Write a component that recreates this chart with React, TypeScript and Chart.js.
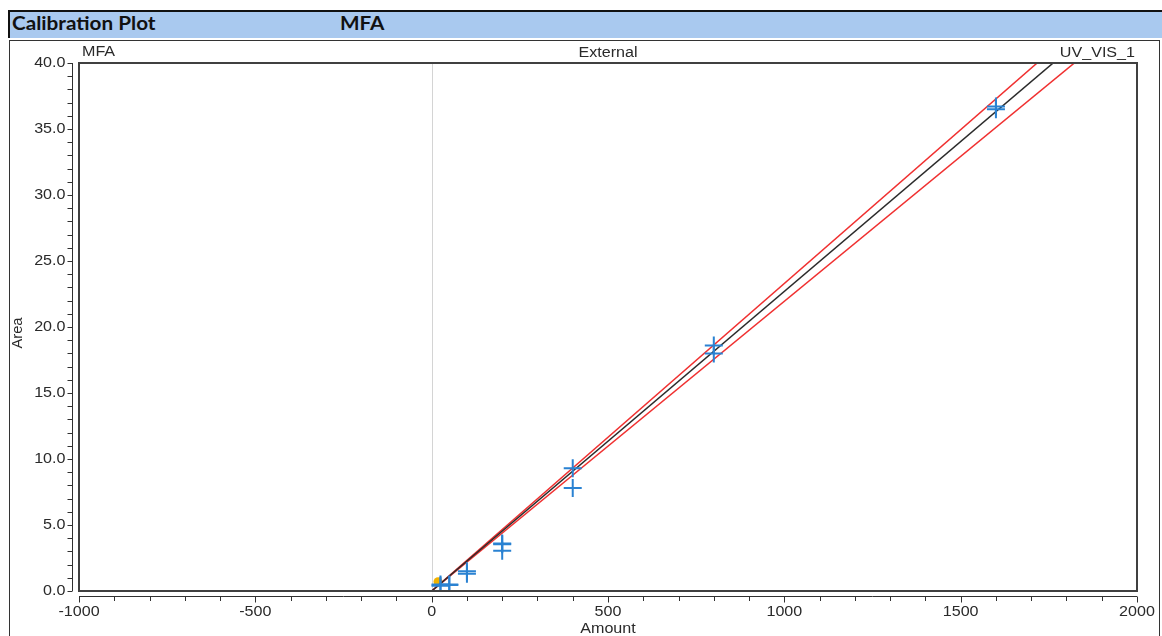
import React, { useEffect, useRef } from "react";
import { Chart, registerables } from "chart.js";

Chart.register(...registerables);

// ---- data ----
const calAmounts = [25, 25, 50, 50, 100, 100, 200, 200, 200, 400, 400, 800, 800, 1600, 1600];
const calAreas = [0.5, 0.4, 0.45, 0.5, 1.5, 1.3, 3.6, 3.55, 3.05, 9.3, 7.8, 18.6, 18.0, 36.7, 36.5];
const highlightAmounts = [18];
const highlightAreas = [0.7];
const fitAmounts = [0, 2000];
const fitAreas = [0, 45.4];
const upperAreas = [0, 46.6];
const lowerAreas = [0, 43.9];
const xMajorTicks = [-1000, -500, 0, 500, 1000, 1500, 2000];
const xMinorStep = 100;
const yMajorTicks = [0, 5, 10, 15, 20, 25, 30, 35, 40];
const yMinorStep = 1;
const xTitle = "Amount";
const yTitle = "Area";
const topLeftLabel = "MFA";
const topCenterLabel = "External";
const topRightLabel = "UV_VIS_1";
const headerTitle = "Calibration Plot";
const headerName = "MFA";

const TEXT_COLOR = "#2a2a2a";
const STRETCH = 1.15;

function stretchText(ctx: CanvasRenderingContext2D, text: string, x: number, y: number, align: CanvasTextAlign) {
  ctx.save();
  ctx.translate(x, y);
  ctx.scale(STRETCH, 1);
  ctx.textAlign = align;
  ctx.textBaseline = "middle";
  ctx.fillText(text, 0, 0);
  ctx.restore();
}

const framePlugin = {
  id: "calibFrame",
  beforeDatasetsDraw(chart: any) {
    const { ctx, chartArea } = chart;
    const xs = chart.scales.x;
    const x0 = Math.round(xs.getPixelForValue(0)) + 0.5;
    ctx.save();
    ctx.strokeStyle = "#d4d4d4";
    ctx.lineWidth = 1;
    ctx.beginPath();
    ctx.moveTo(x0, chartArea.top);
    ctx.lineTo(x0, chartArea.bottom);
    ctx.stroke();
    ctx.restore();
  },
  afterDraw(chart: any) {
    const { ctx, chartArea } = chart;
    const xs = chart.scales.x;
    const ys = chart.scales.y;
    const { left, right, top, bottom } = chartArea;
    ctx.save();
    // plot frame
    ctx.strokeStyle = "#404040";
    ctx.lineWidth = 2;
    ctx.strokeRect(left, top, right - left, bottom - top);

    ctx.lineWidth = 1;
    ctx.strokeStyle = "#303030";
    // y axis line (offset)
    const yAxisX = left - 6.5;
    ctx.beginPath();
    ctx.moveTo(yAxisX, top);
    ctx.lineTo(yAxisX, bottom);
    ctx.stroke();
    // y ticks
    const yMin = yMajorTicks[0];
    const yMax = yMajorTicks[yMajorTicks.length - 1];
    for (let v = yMin; v <= yMax + 1e-9; v += yMinorStep) {
      const py = Math.round(ys.getPixelForValue(v)) + 0.5;
      ctx.beginPath();
      ctx.moveTo(yAxisX - 5, py);
      ctx.lineTo(yAxisX, py);
      ctx.stroke();
    }
    // x axis line (offset)
    const xAxisY = bottom + 5.5;
    ctx.beginPath();
    ctx.moveTo(left, xAxisY);
    ctx.lineTo(right, xAxisY);
    ctx.stroke();
    const xMin = xMajorTicks[0];
    const xMax = xMajorTicks[xMajorTicks.length - 1];
    for (let v = xMin; v <= xMax + 1e-9; v += xMinorStep) {
      const px = Math.round(xs.getPixelForValue(v)) + 0.5;
      const major = xMajorTicks.includes(v);
      ctx.beginPath();
      ctx.moveTo(px, xAxisY);
      ctx.lineTo(px, xAxisY + (major ? 6 : 4.5));
      ctx.stroke();
    }

    // labels
    ctx.fillStyle = TEXT_COLOR;
    ctx.font = "14px 'Liberation Sans', Arial, sans-serif";
    yMajorTicks.forEach((v) => {
      const py = ys.getPixelForValue(v);
      stretchText(ctx, v.toFixed(1), yAxisX - 7, py, "right");
    });
    xMajorTicks.forEach((v) => {
      const px = xs.getPixelForValue(v);
      stretchText(ctx, String(v), px, bottom + 21, "center");
    });
    stretchText(ctx, xTitle, (left + right) / 2, bottom + 38, "center");
    stretchText(ctx, topLeftLabel, left + 3, top - 11, "left");
    stretchText(ctx, topCenterLabel, (left + right) / 2, top - 10, "center");
    stretchText(ctx, topRightLabel, right - 2, top - 10, "right");

    ctx.save();
    ctx.translate(18, (top + bottom) / 2 + 6);
    ctx.rotate(-Math.PI / 2);
    ctx.scale(1.05, 1.1);
    ctx.textAlign = "center";
    ctx.textBaseline = "middle";
    ctx.fillText(yTitle, 0, 0);
    ctx.restore();

    ctx.restore();
  },
};

export default function App() {
  const canvasRef = useRef<HTMLCanvasElement | null>(null);

  useEffect(() => {
    if (!canvasRef.current) return;
    const chart = new Chart(canvasRef.current, {
      type: "scatter",
      data: {
        datasets: [
          {
            type: "scatter",
            label: "Calibration points",
            data: calAmounts.map((a, i) => ({ x: a, y: calAreas[i] })),
            pointStyle: "cross",
            pointRadius: 9,
            pointBorderWidth: 2,
            borderColor: "#2a82d2",
            backgroundColor: "#2a82d2",
          },
          {
            type: "line",
            label: "Fit",
            data: fitAmounts.map((a, i) => ({ x: a, y: fitAreas[i] })),
            borderColor: "#2b2b2b",
            borderWidth: 1.5,
            pointRadius: 0,
            fill: false,
            showLine: true,
            clip: 0,
          } as any,
          {
            type: "line",
            label: "Upper",
            data: fitAmounts.map((a, i) => ({ x: a, y: upperAreas[i] })),
            borderColor: "#f03030",
            borderWidth: 1.5,
            pointRadius: 0,
            fill: false,
            showLine: true,
            clip: 0,
          } as any,
          {
            type: "line",
            label: "Lower",
            data: fitAmounts.map((a, i) => ({ x: a, y: lowerAreas[i] })),
            borderColor: "#f03030",
            borderWidth: 1.5,
            pointRadius: 0,
            fill: false,
            showLine: true,
            clip: 0,
          } as any,
          {
            type: "scatter",
            label: "Highlight",
            data: highlightAmounts.map((a, i) => ({ x: a, y: highlightAreas[i] })),
            pointStyle: "circle",
            pointRadius: 4.5,
            borderWidth: 0,
            borderColor: "#f2b200",
            backgroundColor: "#f2b200",
          },
        ],
      },
      options: {
        animation: false,
        responsive: false,
        events: [],
        layout: { padding: { left: 79, top: 63, right: 25, bottom: 45 } },
        plugins: { legend: { display: false }, tooltip: { enabled: false } },
        scales: {
          x: { type: "linear", min: -1000, max: 2000, display: false },
          y: { type: "linear", min: 0, max: 40, display: false },
        },
      },
      plugins: [framePlugin],
    });
    return () => chart.destroy();
  }, []);

  const headerText: React.CSSProperties = {
    position: "absolute",
    top: 0,
    font: "bold 18px Lato, 'Open Sans', sans-serif",
    color: "#111",
    transform: `scaleX(${STRETCH})`,
    transformOrigin: "left center",
    whiteSpace: "nowrap",
  };

  return (
    <div style={{ position: "absolute", left: 0, top: 0, width: 1162, height: 636, background: "#fff", overflow: "hidden" }}>
      <div
        style={{
          position: "absolute",
          left: 8,
          top: 10,
          width: 1154,
          height: 28,
          boxSizing: "border-box",
          borderTop: "2px solid #111",
          borderLeft: "2px solid #111",
          background: "#a9c9ef",
        }}
      >
        <span style={{ ...headerText, left: 2 }}>{headerTitle}</span>
        <span style={{ ...headerText, left: 330 }}>{headerName}</span>
      </div>
      <div
        style={{
          position: "absolute",
          left: 9,
          top: 40,
          width: 1151,
          height: 620,
          boxSizing: "border-box",
          border: "1px solid #333",
        }}
      />
      <canvas
        ref={canvasRef}
        width={1162}
        height={636}
        style={{ position: "absolute", left: 0, top: 0, width: 1162, height: 636 }}
      />
    </div>
  );
}
